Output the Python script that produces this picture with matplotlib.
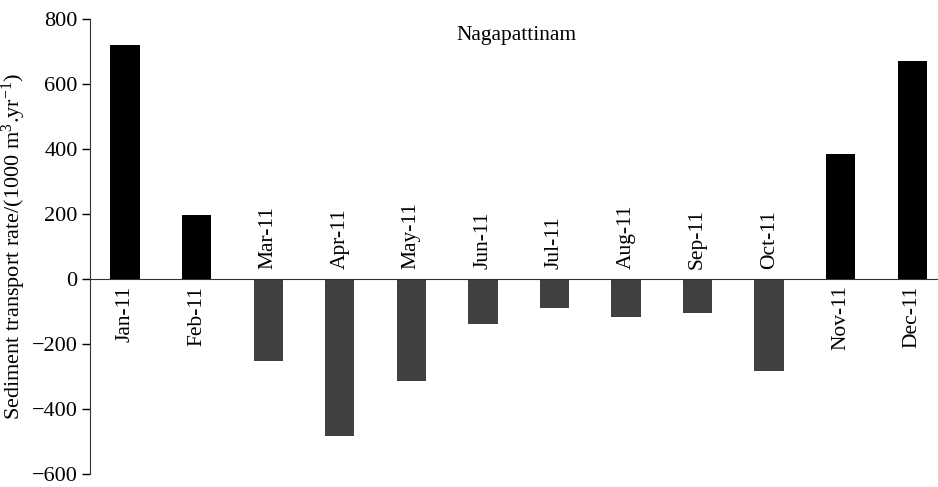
import numpy as np
import matplotlib.pyplot as plt

plt.rcParams['font.family'] = ['Liberation Serif', 'DejaVu Serif']
plt.rcParams['mathtext.fontset'] = 'custom'
plt.rcParams['mathtext.rm'] = 'Liberation Serif'
plt.rcParams['mathtext.it'] = 'Liberation Serif:italic'

months = ["Jan-11", "Feb-11", "Mar-11", "Apr-11", "May-11", "Jun-11",
          "Jul-11", "Aug-11", "Sep-11", "Oct-11", "Nov-11", "Dec-11"]
transport = [720, 198, -253, -482, -314, -140, -89, -116, -104, -284, 385, 672]

x = np.arange(len(months))
colors = ["black" if v > 0 else "#404040" for v in transport]

fig = plt.figure(figsize=(9.38, 4.87), dpi=100)
ax = fig.add_axes([0.096, 0.027, 0.904, 0.934])

ax.bar(x, transport, width=0.41, color=colors, zorder=2)

ax.set_ylim(-600, 800)
ax.set_xlim(-0.49, 11.36)
ax.set_yticks(np.arange(-600, 801, 200))
ax.tick_params(axis='y', direction='out', length=6, width=1, labelsize=16, pad=3)
ax.set_xticks([])

ax.spines['top'].set_visible(False)
ax.spines['right'].set_visible(False)
ax.spines['bottom'].set_position(('data', 0))
ax.spines['bottom'].set_color('#333333')
ax.spines['left'].set_color('#333333')

# month names sit on the opposite side of the zero line from their bar
for xi, v, name in zip(x, transport, months):
    if v > 0:
        ax.annotate(name, (xi, 0), xytext=(0, -5), textcoords='offset points',
                    rotation=90, ha='center', va='top', fontsize=15.5)
    else:
        ax.annotate(name, (xi, 0), xytext=(0, 7), textcoords='offset points',
                    rotation=90, ha='center', va='bottom', fontsize=15.5)

ax.text(0.503, 0.985, "Nagapattinam", transform=ax.transAxes,
        ha='center', va='top', fontsize=15.5)
ax.set_ylabel(r"Sediment transport rate/(1000 m$^3$.yr$^{-1}$)", fontsize=16, labelpad=3)

fig.savefig("out.png", dpi=100)
